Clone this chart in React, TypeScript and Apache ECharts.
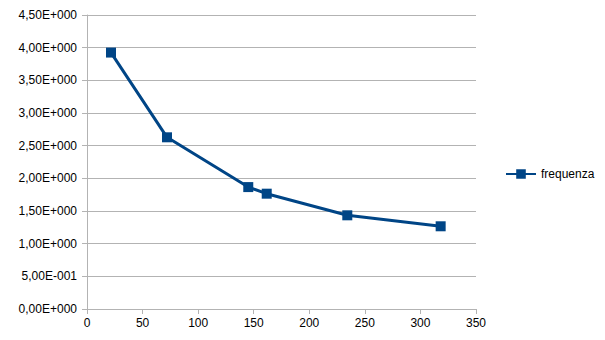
import React, { useEffect, useRef } from "react";
import * as echarts from "echarts";

const seriesName = "frequenza";
const xValues = [21.6, 72, 145.1, 161.7, 234.2, 318.2];
const yValues = [3.925, 2.628, 1.866, 1.765, 1.434, 1.266];

function sci(v: number): string {
  if (v === 0) return "0,00E+000";
  const exp = Math.floor(Math.log10(Math.abs(v)) + 1e-9);
  const mant = v / Math.pow(10, exp);
  const sign = exp < 0 ? "-" : "+";
  const e = String(Math.abs(exp)).padStart(3, "0");
  return mant.toFixed(2).replace(".", ",") + "E" + sign + e;
}

export default function App() {
  const ref = useRef<HTMLDivElement>(null);
  useEffect(() => {
    if (!ref.current) return;
    const chart = echarts.init(ref.current, undefined, { renderer: "svg" });
    const font = "'Liberation Sans', Arial, sans-serif";
    chart.setOption({
      animation: false,
      backgroundColor: "#ffffff",
      grid: { left: 87, right: 129, top: 15, bottom: 31, containLabel: false },
      legend: {
        data: [seriesName],
        left: 500,
        top: 163,
        itemWidth: 30,
        itemHeight: 12,
        itemGap: 4,
        textStyle: { fontFamily: font, fontSize: 12, color: "#000" },
      },
      xAxis: {
        type: "value",
        min: 0,
        max: 350,
        interval: 50,
        axisLine: { show: true, lineStyle: { color: "#b3b3b3", width: 1 } },
        axisTick: { show: true, length: 5, lineStyle: { color: "#b3b3b3" } },
        splitLine: { show: false },
        axisLabel: { fontFamily: font, fontSize: 12, color: "#000", margin: 8 },
      },
      yAxis: {
        type: "value",
        min: 0,
        max: 4.5,
        interval: 0.5,
        axisLine: { show: true, lineStyle: { color: "#b3b3b3", width: 1 } },
        axisTick: { show: true, length: 5, lineStyle: { color: "#b3b3b3" } },
        splitLine: { show: true, lineStyle: { color: "#b3b3b3", width: 1 } },
        axisLabel: {
          fontFamily: font,
          fontSize: 12,
          color: "#000",
          margin: 10,
          formatter: (v: number) => sci(v),
        },
      },
      series: [
        {
          name: seriesName,
          type: "line",
          data: xValues.map((x, i) => [x, yValues[i]]),
          symbol: "rect",
          symbolSize: 10,
          lineStyle: { color: "#004586", width: 3 },
          itemStyle: { color: "#004586" },
        },
      ],
    });
    return () => chart.dispose();
  }, []);
  return (
    <div
      ref={ref}
      style={{ position: "fixed", left: 0, top: 0, width: 605, height: 340 }}
    />
  );
}
